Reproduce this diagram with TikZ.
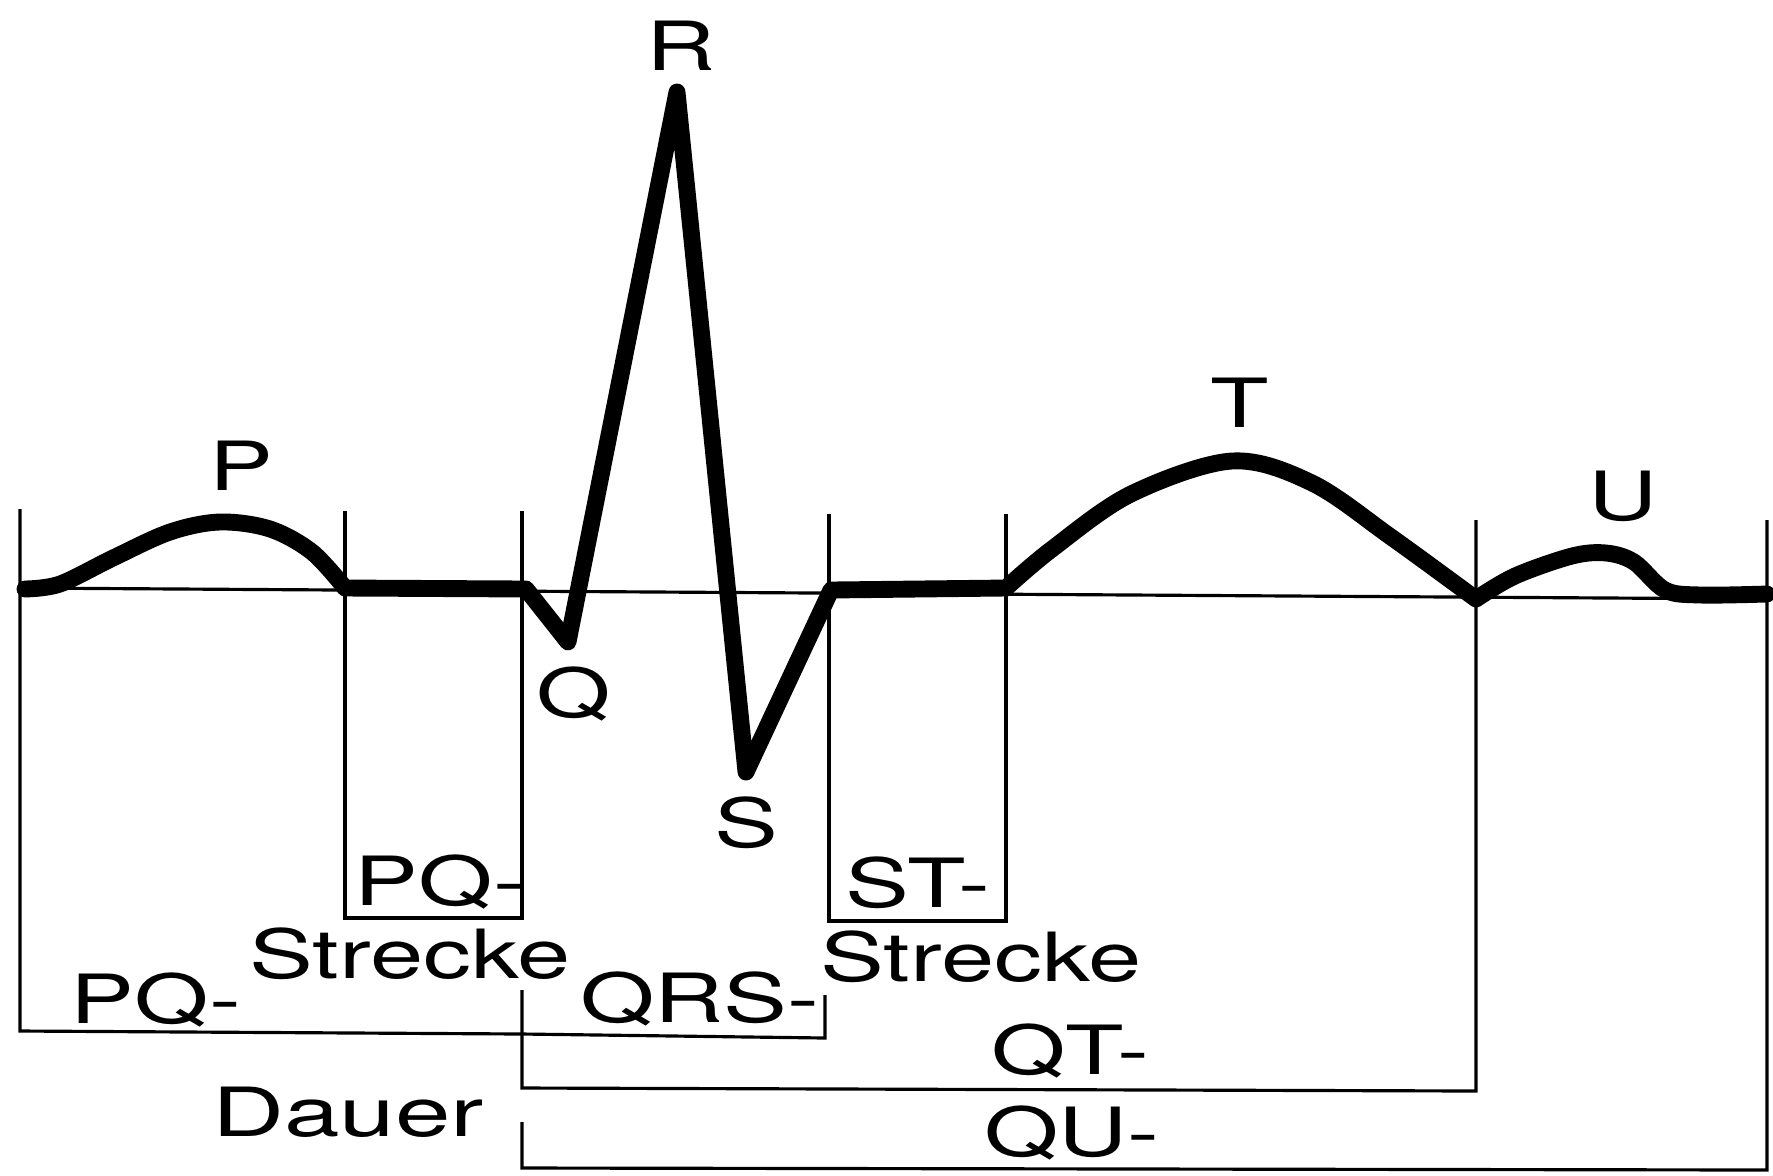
\documentclass[tikz,border=0pt]{standalone}
\usepackage{fontspec}
\setmainfont{TeX Gyre Heros}
\usepackage{graphicx}
\newcommand{\wt}[1]{\scalebox{1.41}[1]{#1}}
\begin{document}
\begin{tikzpicture}[x=0.01cm,y=-0.01cm,
  lbl/.style={font=\fontsize{19.3}{23}\selectfont, inner sep=0pt, anchor=base},
  rule/.style={line width=0.9pt, line cap=butt},
  trace/.style={line width=4.8pt, line join=round, line cap=round}]
\useasboundingbox[fill=white] (0,0) rectangle (1773,1175);

% thin baseline
\draw[rule] (20,588) -- (1767,599);

% vertical markers and brackets
\draw[rule] (20,509) -- (20,1031) -- (522,1034) -- (825,1038) -- (825,995);   % PQ-Dauer + QRS-Dauer
\draw[rule] (345,511) -- (345,918) -- (522,918) -- (522,511);                % PQ-Strecke
\draw[rule] (522,990) -- (522,1088) -- (1476,1091) -- (1476,520);            % QT-Dauer
\draw[rule] (522,1122) -- (522,1168) -- (1767,1170) -- (1767,520);           % QU-Dauer
\draw[rule] (829,514) -- (829,921) -- (1006,921) -- (1006,514);              % ST-Strecke

% ECG trace
\draw[trace]
  plot[smooth, tension=0.55] coordinates {(25,589) (60,584) (113,558) (170,532) (220,522) (270,529) (312,552) (345,588)}
  -- (526,589) -- (568,642) -- (677,92) -- (746,772) -- (831,590) -- (1006,588)
  -- plot[smooth, tension=0.55] coordinates {(1006,588) (1052,549) (1131,494) (1232,461) (1312,483) (1391,537) (1476,599)}
  -- plot[smooth, tension=0.55] coordinates {(1476,599) (1515,576) (1572,556) (1606,553) (1634,562) (1665,590) (1700,595) (1767,594)};

% wave labels
\node[lbl] (R) at (681,70) {\wt{R}};
\node[lbl] (P) at (241,490) {\wt{P}};
\node[lbl] (Q) at (574,717) {\wt{Q}};
\node[lbl] (S) at (746,847) {\wt{S}};
\node[lbl] (T) at (1240,427) {\wt{T}};
\node[lbl] (U) at (1623,520) {\wt{U}};

% interval labels
\node[lbl] (pqs1) at (440,905) {\wt{PQ-}};
\node[lbl] (pqs2) at (410,978) {\wt{Strecke}};
\node[lbl] (pqd1) at (156,1023) {\wt{PQ-}};
\node[lbl] (pqd2) at (348,1136) {\scalebox{1.47}[1]{Dauer}};
\node[lbl] (qrs) at (700,1022) {\wt{QRS-}};
\node[lbl] (sts1) at (918,907) {\wt{ST-}};
\node[lbl] (sts2) at (981,981) {\wt{Strecke}};
\node[lbl] (qt) at (1070,1074) {\wt{QT-}};
\node[lbl] (qu) at (1072,1156) {\wt{QU-}};
\end{tikzpicture}
\end{document}
